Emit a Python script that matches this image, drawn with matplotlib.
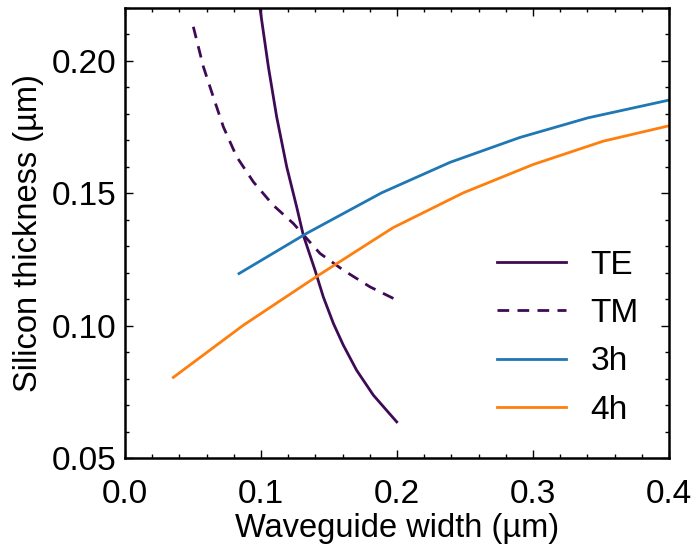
import matplotlib
matplotlib.use("Agg")
import matplotlib.pyplot as plt
from matplotlib.ticker import MultipleLocator

plt.rcParams['font.family'] = ['Liberation Sans', 'DejaVu Sans']

# Cut-off curves for the fundamental TE / TM modes
te_width = [0.0985, 0.1054, 0.1115, 0.1189, 0.1262, 0.1311, 0.1397, 0.1458, 0.1532, 0.1605, 0.1703, 0.1826, 0.1998]
te_thick = [0.2225, 0.1978, 0.1789, 0.1600, 0.1449, 0.1342, 0.1210, 0.1109, 0.1009, 0.0927, 0.0832, 0.0738, 0.0637]

tm_width = [0.0502, 0.0576, 0.0649, 0.0723, 0.0821, 0.0944, 0.1090, 0.1238, 0.1434, 0.1605, 0.1801, 0.1998]
tm_thick = [0.2129, 0.1978, 0.1864, 0.1751, 0.1638, 0.1543, 0.1455, 0.1386, 0.1273, 0.1210, 0.1147, 0.1097]

# Third- and fourth-harmonic phase-matching curves
h3_width = [0.0838, 0.1336, 0.1887, 0.2390, 0.2904, 0.3404, 0.4000]
h3_thick = [0.1197, 0.1349, 0.1502, 0.1617, 0.1711, 0.1785, 0.1852]

h4_width = [0.0355, 0.0870, 0.1421, 0.1970, 0.2488, 0.3002, 0.3517, 0.4000]
h4_thick = [0.0805, 0.1002, 0.1190, 0.1370, 0.1502, 0.1609, 0.1697, 0.1755]

purple = '#3f0a55'

fig = plt.figure(figsize=(6.91, 5.50), dpi=100)
ax = fig.add_axes([0.181, 0.167, 0.787, 0.8185])

ax.plot(te_width, te_thick, color=purple, lw=2.0, label='TE')
ax.plot(tm_width, tm_thick, color=purple, lw=2.0, ls=(0, (4.2, 3.0)), label='TM')
ax.plot(h3_width, h3_thick, color='#1f77b4', lw=2.0, label='3h')
ax.plot(h4_width, h4_thick, color='#ff7f0e', lw=2.0, label='4h')

ax.set_xlim(0.0, 0.4)
ax.set_ylim(0.05, 0.22)
ax.xaxis.set_major_locator(MultipleLocator(0.1))
ax.xaxis.set_minor_locator(MultipleLocator(0.02))
ax.yaxis.set_major_locator(MultipleLocator(0.05))
ax.yaxis.set_minor_locator(MultipleLocator(0.01))
ax.xaxis.set_major_formatter(plt.FormatStrFormatter('%.1f'))
ax.yaxis.set_major_formatter(plt.FormatStrFormatter('%.2f'))

ax.tick_params(which='both', direction='in', top=True, right=True, width=1.0)
ax.tick_params(which='major', length=5.5, labelsize=24)
ax.tick_params(axis='x', which='major', pad=15)
ax.tick_params(axis='y', which='major', pad=6)
ax.tick_params(which='minor', length=3)
for s in ax.spines.values():
    s.set_linewidth(1.8)

ax.set_xlabel('Waveguide width (µm)', fontsize=23.5, labelpad=2)
ax.set_ylabel('Silicon thickness (µm)', fontsize=23.5, labelpad=6)

ax.legend(loc='center left', bbox_to_anchor=((497 - 125) / 544, 0.268), frameon=False,
          fontsize=24, handlelength=2.07, labelspacing=0.52, handletextpad=0.74,
          borderpad=0.0, borderaxespad=0.0)

fig.savefig('out.png', dpi=100)
